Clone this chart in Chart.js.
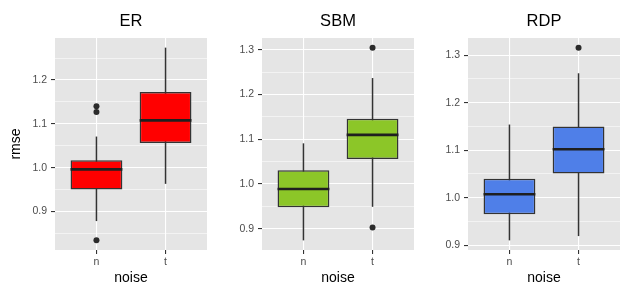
<!DOCTYPE html>
<html>
<head>
<meta charset="utf-8">
<script src="https://cdn.jsdelivr.net/npm/chart.js@4.4.1/dist/chart.umd.min.js"></script>
<style>
  body { margin: 0; background: #fff; }
  #wrap { position: relative; width: 635px; height: 300px; }
  .panel { position: absolute; top: 0; height: 300px; }
</style>
</head>
<body>
<div id="wrap">
  <div class="panel" style="left:0px;width:211px"><canvas id="er"></canvas></div>
  <div class="panel" style="left:211px;width:211px"><canvas id="sbm"></canvas></div>
  <div class="panel" style="left:422px;width:213px"><canvas id="rdp"></canvas></div>
</div>
<script>
// categories
const noise = ['n', 't'];
const noisePos = [1, 2];

// ER
const erLower = [0.878, 0.963];
const erQ1 = [0.950, 1.056];
const erMedian = [0.996, 1.108];
const erQ3 = [1.017, 1.173];
const erUpper = [1.071, 1.274];
const erOutliers = [[1.140, 1.127, 0.834], []];

// SBM
const sbmLower = [0.874, 0.949];
const sbmQ1 = [0.948, 1.056];
const sbmMedian = [0.989, 1.110];
const sbmQ3 = [1.031, 1.146];
const sbmUpper = [1.091, 1.237];
const sbmOutliers = [[], [1.305, 0.903]];

// RDP
const rdpLower = [0.910, 0.919];
const rdpQ1 = [0.965, 1.051];
const rdpMedian = [1.007, 1.102];
const rdpQ3 = [1.040, 1.150];
const rdpUpper = [1.154, 1.262];
const rdpOutliers = [[], [1.316]];

// y tick labels
const erTicks = [0.9, 1.0, 1.1, 1.2];
const sbmTicks = [0.9, 1.0, 1.1, 1.2, 1.3];
const rdpTicks = [0.9, 1.0, 1.1, 1.2, 1.3];

const FONT = "'Liberation Sans', Arial, sans-serif";

const panels = [
    { id: 'er', title: 'ER', fill: '#FF0000', lower: erLower, q1: erQ1, median: erMedian, q3: erQ3, upper: erUpper, outliers: erOutliers, ticks: erTicks, yTitle: 'rmse', yWidth: 55, rightPad: 4 },
    { id: 'sbm', title: 'SBM', fill: '#8CC628', lower: sbmLower, q1: sbmQ1, median: sbmMedian, q3: sbmQ3, upper: sbmUpper, outliers: sbmOutliers, ticks: sbmTicks, yTitle: '', yWidth: 51, rightPad: 8 },
    { id: 'rdp', title: 'RDP', fill: '#4F7FE8', lower: rdpLower, q1: rdpQ1, median: rdpMedian, q3: rdpQ3, upper: rdpUpper, outliers: rdpOutliers, ticks: rdpTicks, yTitle: '', yWidth: 46, rightPad: 15 }
];

// grey panel behind the grid
const panelBackground = {
    id: 'panelBackground',
    beforeDraw(chart) {
        const a = chart.chartArea;
        const ctx = chart.ctx;
        ctx.save();
        ctx.fillStyle = '#E5E5E5';
        ctx.fillRect(a.left, a.top, a.right - a.left, a.bottom - a.top);
        ctx.restore();
    }
};

// thick median line across each box
const medianLines = {
    id: 'medianLines',
    afterDatasetsDraw(chart, args, opts) {
        const meta = chart.getDatasetMeta(1);
        const ctx = chart.ctx;
        const y = chart.scales.y;
        ctx.save();
        ctx.strokeStyle = '#1F1F1F';
        ctx.lineWidth = 2.6;
        meta.data.forEach((el, i) => {
            const p = el.getProps(['x', 'width'], true);
            const py = y.getPixelForValue(opts.values[i]);
            ctx.beginPath();
            ctx.moveTo(p.x - p.width / 2, py);
            ctx.lineTo(p.x + p.width / 2, py);
            ctx.stroke();
        });
        ctx.restore();
    }
};

panels.forEach(p => {
    // ggplot style expansion of 5% on each side
    const all = [...p.lower, ...p.upper, ...p.outliers.flat()];
    const lo = Math.min(...all), hi = Math.max(...all);
    const pad = (hi - lo) * 0.05;
    const yMin = lo - pad, yMax = hi + pad;

    const half = (p.ticks[1] - p.ticks[0]) / 2;
    const yTickList = [];
    p.ticks.forEach((v, i) => {
        if (i === 0 && v - half > yMin) yTickList.push({ value: v - half, minor: true });
        yTickList.push({ value: v, minor: false });
        if (v + half < yMax) yTickList.push({ value: v + half, minor: true });
    });

    const outlierPoints = [];
    p.outliers.forEach((list, i) => list.forEach(v => outlierPoints.push({ x: noisePos[i], y: v })));

    new Chart(document.getElementById(p.id), {
        type: 'bar',
        data: {
            datasets: [{
                type: 'bar',
                data: noisePos.map((x, i) => ({ x: x, y: [p.lower[i], p.upper[i]] })),
                backgroundColor: '#333333',
                borderWidth: 0,
                maxBarThickness: 1.5,
                grouped: false,
                order: 3
            }, {
                type: 'bar',
                data: noisePos.map((x, i) => ({ x: x, y: [p.q1[i], p.q3[i]] })),
                backgroundColor: p.fill,
                borderColor: '#333333',
                borderWidth: 1.5,
                borderSkipped: false,
                grouped: false,
                categoryPercentage: 1,
                barPercentage: 0.75,
                order: 2
            }, {
                type: 'scatter',
                data: outlierPoints,
                pointRadius: 3,
                pointBackgroundColor: '#2B2B2B',
                pointBorderWidth: 0,
                order: 1
            }]
        },
        options: {
            responsive: true,
            maintainAspectRatio: false,
            animation: false,
            layout: { padding: { left: 0, right: p.rightPad, top: 0, bottom: 0 } },
            plugins: {
                legend: { display: false },
                tooltip: { enabled: false },
                title: {
                    display: true,
                    text: p.title,
                    fullSize: false,
                    color: '#000',
                    font: { family: FONT, size: 16.5, weight: 'normal' },
                    padding: { top: 12, bottom: 6.2 }
                },
                medianLines: { values: p.median }
            },
            scales: {
                x: {
                    type: 'linear',
                    min: 0.4,
                    max: 2.6,
                    offset: false,
                    afterBuildTicks: s => { s.ticks = noisePos.map(v => ({ value: v })); },
                    afterFit: s => { s.height = 50; },
                    ticks: {
                        callback: v => noise[noisePos.indexOf(v)],
                        color: '#4D4D4D',
                        font: { family: FONT, size: 10.5 },
                        padding: 2,
                        maxRotation: 0
                    },
                    grid: { offset: false, color: '#FFFFFF', lineWidth: 1.1, tickColor: '#333333', tickLength: 4, tickWidth: 1.1 },
                    border: { display: false },
                    title: {
                        display: true,
                        text: 'noise',
                        color: '#000',
                        font: { family: FONT, size: 14 },
                        padding: { top: 0, bottom: 13.6 }
                    }
                },
                y: {
                    type: 'linear',
                    min: yMin,
                    max: yMax,
                    beginAtZero: false,
                    bounds: 'data',
                    afterBuildTicks: s => { s.ticks = yTickList.map(t => ({ ...t })); },
                    afterFit: s => { s.width = p.yWidth; },
                    ticks: {
                        callback: (v, i, ticks) => ticks[i].minor ? '' : v.toFixed(1),
                        color: '#4D4D4D',
                        font: { family: FONT, size: 10.5 },
                        padding: 4
                    },
                    grid: {
                        color: '#FFFFFF',
                        lineWidth: c => (c.tick && c.tick.minor) ? 0.55 : 1.1,
                        tickColor: c => (c.tick && c.tick.minor) ? 'rgba(0,0,0,0)' : '#333333',
                        tickLength: 4,
                        tickWidth: 1.1
                    },
                    border: { display: false },
                    title: {
                        display: p.yTitle !== '',
                        text: p.yTitle,
                        color: '#000',
                        font: { family: FONT, size: 14 },
                        padding: { top: 8, bottom: 0 }
                    }
                }
            }
        },
        plugins: [panelBackground, medianLines]
    });
});
</script>
</body>
</html>
